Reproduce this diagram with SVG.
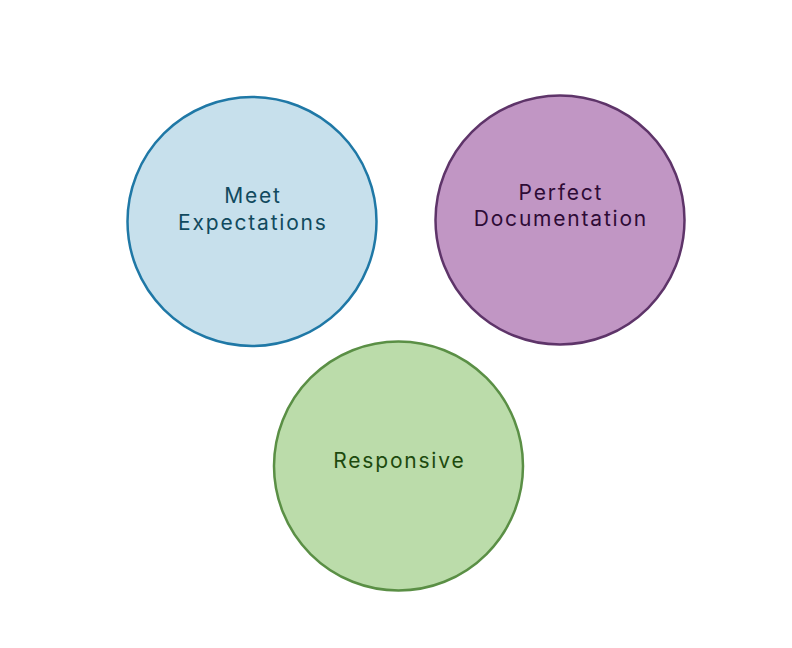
<svg xmlns="http://www.w3.org/2000/svg" width="792" height="648" viewBox="0 0 792 648">
<style>
.c{stroke-width:2.5}
.t{font-family:Inter,"Open Sans","Liberation Sans",sans-serif;font-size:21px;letter-spacing:1.8px;text-anchor:middle}
</style>
<rect width="792" height="648" fill="#ffffff"/>
<g id="connectors"></g>
<g id="meet">
<circle class="c" cx="252" cy="221.5" r="124.5" fill="#c7e0ec" stroke="#1f78a6"/>
<text class="t" fill="#114a5e" x="252.9" y="203">Meet</text>
<text class="t" fill="#114a5e" x="252.9" y="230">Expectations</text>
</g>
<g id="perfect">
<circle class="c" cx="560" cy="220" r="124.5" fill="#c196c4" stroke="#5e3469"/>
<text class="t" fill="#2e0b36" x="560.9" y="200">Perfect</text>
<text class="t" fill="#2e0b36" x="560.9" y="226">Documentation</text>
</g>
<g id="responsive">
<circle class="c" cx="398.5" cy="466" r="124.5" fill="#bbdcaa" stroke="#5a8f45"/>
<text class="t" fill="#1d4a0e" x="399.4" y="468">Responsive</text>
</g>
</svg>
